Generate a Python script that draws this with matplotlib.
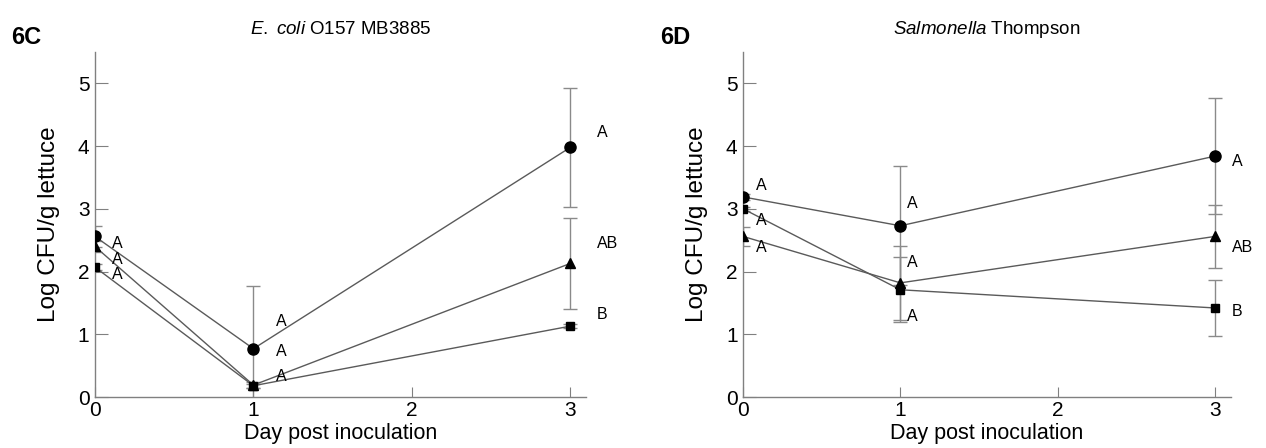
import matplotlib
matplotlib.use("Agg")
import matplotlib.pyplot as plt

plt.rcParams['font.family'] = ['Liberation Sans', 'DejaVu Sans']
plt.rcParams['mathtext.fontset'] = 'custom'
plt.rcParams['mathtext.rm'] = 'Liberation Sans'
plt.rcParams['mathtext.it'] = 'Liberation Sans:italic'

days = [0, 1, 3]

# Panel 6C: E. coli O157 MB3885
c_circle = [2.56, 0.77, 3.98]
c_circle_err = [0.17, 1.0, 0.95]
c_triangle = [2.40, 0.19, 2.13]
c_triangle_err = [0.08, 0.05, 0.72]
c_square = [2.07, 0.18, 1.13]
c_square_err = [0.05, 0.03, 0.03]

# Panel 6D: Salmonella Thompson
d_circle = [3.19, 2.73, 3.84]
d_circle_err = [0.05, 0.95, 0.92]
d_square = [3.00, 1.71, 1.42]
d_square_err = [0.03, 0.52, 0.44]
d_triangle = [2.56, 1.82, 2.56]
d_triangle_err = [0.15, 0.59, 0.50]

# significance letters: (x, y, text)
c_letters = [(0.11, 2.45, 'A'), (0.11, 2.20, 'A'), (0.11, 1.95, 'A'),
             (1.14, 1.20, 'A'), (1.14, 0.72, 'A'), (1.14, 0.32, 'A'),
             (3.17, 4.21, 'A'), (3.17, 2.44, 'AB'), (3.17, 1.31, 'B')]
d_letters = [(0.08, 3.38, 'A'), (0.08, 2.81, 'A'), (0.08, 2.39, 'A'),
             (1.04, 3.08, 'A'), (1.04, 2.14, 'A'), (1.04, 1.28, 'A'),
             (3.11, 3.76, 'A'), (3.11, 2.39, 'AB'), (3.11, 1.36, 'B')]

yticks = [0, 1, 2, 3, 4, 5]
xticks = [0, 1, 2, 3]

fig = plt.figure(figsize=(12.66, 4.48), dpi=100)
axC = fig.add_axes([0.075, 0.1138, 0.388, 0.770])
axD = fig.add_axes([0.587, 0.1138, 0.385, 0.770])

line_col = '#5a5a5a'
err_col = '#8a8a8a'
spine_col = '#808080'

def draw(ax, series, letters, title, label):
    for vals, errs, marker, ms in series:
        ax.errorbar(days, vals, yerr=errs, fmt='none', ecolor=err_col,
                    elinewidth=1.0, capsize=5, capthick=1.0, zorder=1)
        ax.plot(days, vals, color=line_col, lw=1.0, zorder=2)
        ax.plot(days, vals, linestyle='none', marker=marker, ms=ms,
                color='black', zorder=3)
    for x, y, t in letters:
        ax.text(x, y, t, fontsize=11.5, ha='left', va='center')
    ax.set_xlim(0, 3.1)
    ax.set_ylim(0, 5.5)
    ax.set_xticks(xticks)
    ax.set_yticks(yticks)
    for s in ['top', 'right']:
        ax.spines[s].set_visible(False)
    for s in ['left', 'bottom']:
        ax.spines[s].set_color(spine_col)
        ax.spines[s].set_linewidth(1.0)
    ax.tick_params(axis='y', direction='in', length=9, color=spine_col,
                   labelsize=15, pad=4)
    ax.tick_params(axis='x', direction='in', length=7, color=spine_col,
                   labelsize=15, pad=3)
    ax.set_xlabel('Day post inoculation', fontsize=15.5, labelpad=2)
    ax.set_ylabel('Log CFU/g lettuce', fontsize=17.5, labelpad=13)
    ax.set_title(title, fontsize=13.5, pad=13)
    ax.text(-0.17, 1.043, label, transform=ax.transAxes, fontsize=17,
            fontweight='bold', ha='left', va='center')

draw(axC,
     [(c_circle, c_circle_err, 'o', 8),
      (c_triangle, c_triangle_err, '^', 7.5),
      (c_square, c_square_err, 's', 6)],
     c_letters, r'$\mathit{E.\ coli}$ O157 MB3885', '6C')
draw(axD,
     [(d_circle, d_circle_err, 'o', 8),
      (d_square, d_square_err, 's', 6),
      (d_triangle, d_triangle_err, '^', 7.5)],
     d_letters, r'$\mathit{Salmonella}$ Thompson', '6D')

fig.savefig('out.png', dpi=100)
